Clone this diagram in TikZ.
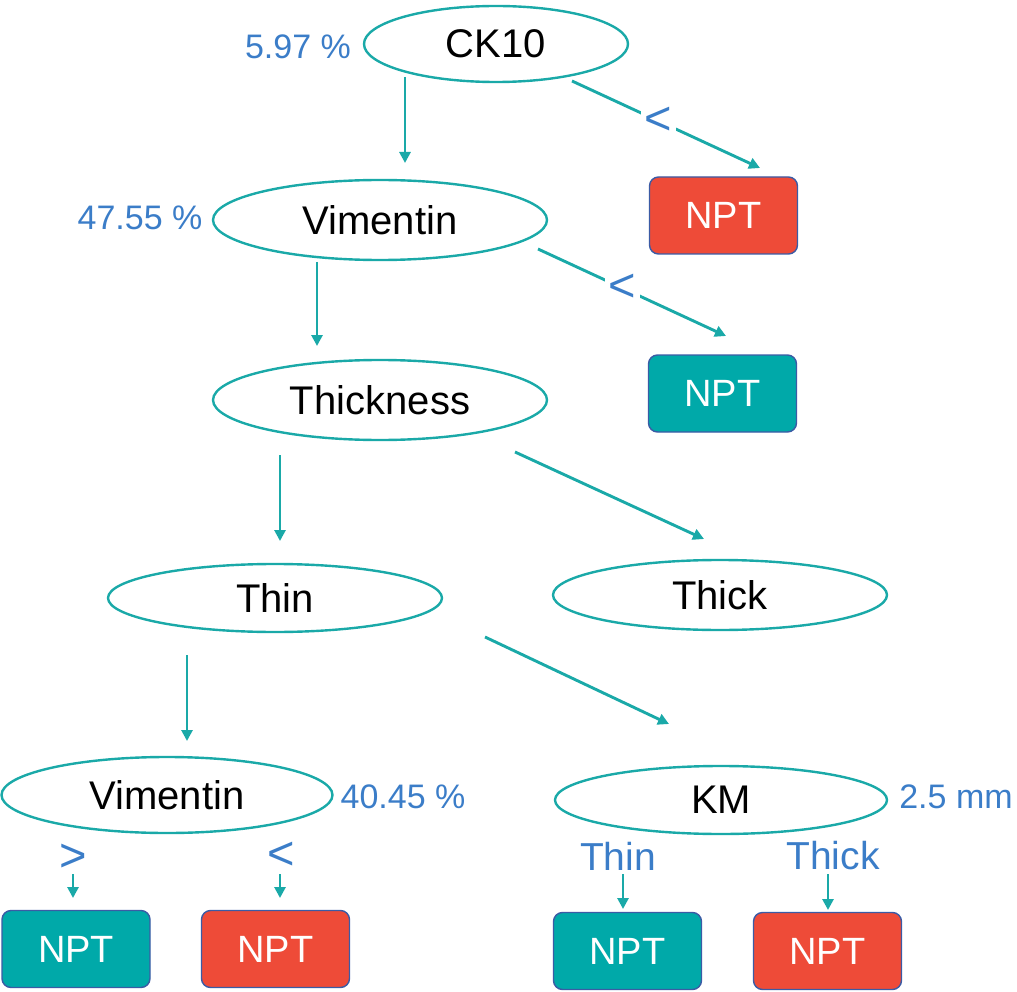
\documentclass[tikz,border=0pt]{standalone}
\usepackage{fontspec}
\setmainfont{Liberation Sans}
\usetikzlibrary{shapes.geometric,arrows.meta}
\definecolor{tealline}{HTML}{1AA9A8}
\definecolor{tealfill}{HTML}{00A9A9}
\definecolor{redfill}{HTML}{EE4B38}
\definecolor{boxborder}{HTML}{3B5BA5}
\definecolor{bluetext}{HTML}{3B7DC8}
\tikzset{
  oval/.style={ellipse, draw=tealline, line width=2.4pt, inner sep=0pt,
    font=\fontsize{40}{40}\selectfont, text=black},
  npt/.style={rectangle, rounded corners=9pt, draw=boxborder, line width=1.4pt,
    minimum width=148pt, minimum height=77pt, inner sep=0pt,
    font=\fontsize{38}{38}\selectfont, text=white},
  tealbox/.style={npt, fill=tealfill},
  redbox/.style={npt, fill=redfill},
  pct/.style={text=bluetext, font=\fontsize{34}{34}\selectfont, inner sep=0pt},
  cond/.style={text=bluetext, font=\fontsize{39}{39}\selectfont, inner sep=0pt},
  sym/.style={text=bluetext, font=\fontsize{47}{47}\selectfont, inner sep=0pt},
  arr/.style={draw=tealline, line width=2.9pt, -{Triangle[length=11pt,width=11pt]}},
  gaplabel/.style={fill=white, inner sep=4pt, text=bluetext, font=\fontsize{47}{47}\selectfont}
}
\begin{document}
\begin{tikzpicture}[x=1pt,y=-1pt]
\useasboundingbox (0,0) rectangle (1017,992);
% ellipses
\node[oval, minimum width=264pt, minimum height=76pt] (ck) at (496,44) {CK10};
\node[oval, minimum width=334pt, minimum height=80pt] (vim1) at (380,220) {Vimentin};
\node[oval, minimum width=334pt, minimum height=80pt] (thk) at (380,400) {Thickness};
\node[oval, minimum width=334pt, minimum height=68pt] (thin) at (275,598) {Thin};
\node[oval, minimum width=334pt, minimum height=70pt] (thick) at (720,595) {Thick};
\node[oval, minimum width=331pt, minimum height=76pt] (vim2) at (167,795) {Vimentin};
\node[oval, minimum width=332pt, minimum height=68pt] (km) at (721,800) {KM};
% percentages
\node[pct] (p1) at (298,47) {5.97 \%};
\node[pct] (p2) at (140,218) {47.55 \%};
\node[pct] (p3) at (403,797) {40.45 \%};
\node[pct] (p4) at (956,797) {2.5 mm};
% boxes
\node[redbox] (n1) at (723.5,215.5) {NPT};
\node[tealbox] (n2) at (722.5,393.5) {NPT};
\node[tealbox] (n3) at (76,949) {NPT};
\node[redbox] (n4) at (275.5,949) {NPT};
\node[tealbox] (n5) at (627.5,951) {NPT};
\node[redbox] (n6) at (827.5,951) {NPT};
% connector coordinates
\coordinate (a1s) at (405,77);  \coordinate (a1e) at (405,163);
\coordinate (a2s) at (572,81);  \coordinate (a2e) at (760,168);
\coordinate (a3s) at (317,262); \coordinate (a3e) at (317,346);
\coordinate (a4s) at (538,249); \coordinate (a4e) at (726,336);
\coordinate (a5s) at (280,455); \coordinate (a5e) at (280,541);
\coordinate (a6s) at (515,452); \coordinate (a6e) at (704,539);
\coordinate (a7s) at (187,655); \coordinate (a7e) at (187,741);
\coordinate (a8s) at (485,637); \coordinate (a8e) at (669,724);
% connectors
\draw[arr] (a1s) -- (a1e);
\draw[arr] (a2s) -- node[gaplabel, pos=0.46] (l1) {<} (a2e);
\draw[arr] (a3s) -- (a3e);
\draw[arr] (a4s) -- node[gaplabel, pos=0.45] (l2) {<} (a4e);
\draw[arr] (a5s) -- (a5e);
\draw[arr] (a6s) -- (a6e);
\draw[arr] (a7s) -- (a7e);
\draw[arr] (a8s) -- (a8e);
% bottom condition labels
\node[sym] (c1) at (73,858) {>};
\node[sym] (c2) at (281,856) {<};
\node[cond] (c3) at (618,856) {Thin};
\node[cond] (c4) at (833,856) {Thick};
\coordinate (b1e) at (73,898);
\coordinate (b2e) at (280,898);
\coordinate (b3e) at (623,909);
\coordinate (b4e) at (828,910);
\draw[arr] (73,874) -- (b1e);
\draw[arr] (280,874) -- (b2e);
\draw[arr] (623,874) -- (b3e);
\draw[arr] (828,874) -- (b4e);
\end{tikzpicture}
\end{document}
